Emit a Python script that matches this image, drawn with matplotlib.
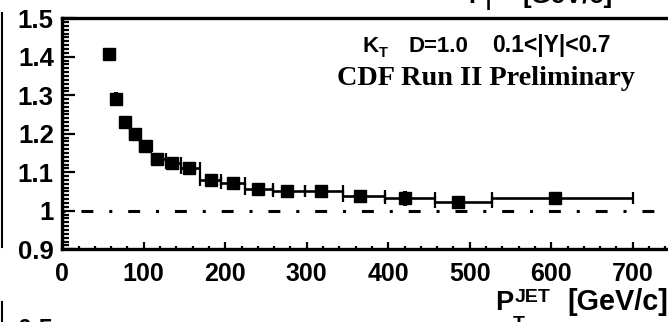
import matplotlib
matplotlib.use("Agg")
import matplotlib.pyplot as plt
from matplotlib.lines import Line2D
from matplotlib.ticker import MultipleLocator, FuncFormatter

plt.rcParams['font.family'] = ['Liberation Sans', 'DejaVu Sans']
plt.rcParams['font.weight'] = 'bold'

# jet pT bins (GeV/c) and measured ratio
bin_lo = [54, 62, 72, 83, 96, 110, 127, 146, 169, 195, 224, 259, 298, 344, 396, 457, 527]
bin_hi = [62, 72, 83, 96, 110, 127, 146, 169, 195, 224, 259, 298, 344, 396, 457, 527, 700]
pt = [57, 66.5, 77, 89, 102, 116, 135, 156, 182, 209, 240, 276, 317, 365, 421, 486, 605]
ratio = [1.406, 1.291, 1.231, 1.198, 1.167, 1.135, 1.124, 1.112, 1.081, 1.071,
         1.057, 1.051, 1.051, 1.038, 1.032, 1.023, 1.034]
ratio_err = [0.014, 0.017, 0.008, 0.007, 0.007, 0.007, 0.006, 0.006, 0.006, 0.006,
             0.006, 0.006, 0.007, 0.008, 0.019, 0.010, 0.012]

W, H = 668, 322
fig = plt.figure(figsize=(W / 100, H / 100), dpi=100)

def fx(x):
    return x / W

def fy(y):
    return 1 - y / H

# axes runs past the right edge of the picture (cropped like the original)
ax = fig.add_axes([fx(62.2), fy(249.2), 652 / W, 231 / H])
ax.set_xlim(0, 800)
ax.set_ylim(0.9, 1.5)

xerr = [[p - lo for p, lo in zip(pt, bin_lo)], [hi - p for p, hi in zip(pt, bin_hi)]]
ax.errorbar(pt, ratio, xerr=xerr, fmt='none', ecolor='k', elinewidth=1.9,
            capsize=4.3, capthick=1.6)
ax.errorbar(pt, ratio, yerr=ratio_err, fmt='s', color='k', ms=8,
            elinewidth=3, capsize=0)

ref = ax.axhline(1.0, color='k', lw=2.2)
ref.set_dashes((1, 5.2, 3.9, 5.2))
ref.set_dash_capstyle('butt')

for s in ax.spines.values():
    s.set_linewidth(2.4)

ax.xaxis.set_major_locator(MultipleLocator(100))
ax.xaxis.set_minor_locator(MultipleLocator(20))
ax.yaxis.set_major_locator(MultipleLocator(0.1))
ax.yaxis.set_minor_locator(MultipleLocator(0.01))
ax.yaxis.set_major_formatter(FuncFormatter(lambda v, p: '%g' % round(v, 2)))
ax.xaxis.set_tick_params(which='major', direction='in', length=5, width=1.6,
                         pad=9, labelsize=18)
ax.xaxis.set_tick_params(which='minor', direction='in', length=2, width=1.6)
ax.yaxis.set_tick_params(which='major', direction='in', length=9.4, width=1.6,
                         pad=6, labelsize=18.5)
ax.yaxis.set_tick_params(which='minor', direction='in', length=5, width=1.6)

# cut label
fig.text(fx(362), fy(52), 'K', fontsize=16, va='baseline')
fig.text(fx(379), fy(57), 'T', fontsize=10.5, va='baseline')
fig.text(fx(409), fy(52), 'D=1.0', fontsize=16, va='baseline')
fig.text(fx(492), fy(52), '0.1<|Y|<0.7', fontsize=16.5, va='baseline')
fig.text(fx(337), fy(85), 'CDF Run II Preliminary', family='Liberation Serif',
         fontsize=20.3, fontweight='bold', va='baseline')

# x title of this panel
fig.text(fx(495), fy(310), 'P', fontsize=19.5, va='baseline')
fig.text(fx(515), fy(302), 'JET', fontsize=14, va='baseline')
fig.text(fx(513), fy(329), 'T', fontsize=14, va='baseline')
fig.text(fx(567), fy(310), '[GeV/c]', fontsize=20.8, va='baseline')

# pieces of the neighbouring panels that are cut off
fig.text(fx(468), fy(3), 'P', fontsize=18, va='baseline')
fig.text(fx(483), fy(10), 'T', fontsize=13, va='baseline')
fig.text(fx(522), fy(3), '[GeV/c]', fontsize=18.5, va='baseline')
fig.text(fx(53), fy(318), '0.5', fontsize=18, ha='right', va='top')
fig.add_artist(Line2D([fx(1.5), fx(1.5)], [fy(13), fy(247)], color='k', lw=1.5))
fig.add_artist(Line2D([fx(1.5), fx(1.5)], [fy(302), fy(322)], color='k', lw=1.5))

fig.savefig('out.png', dpi=100)
